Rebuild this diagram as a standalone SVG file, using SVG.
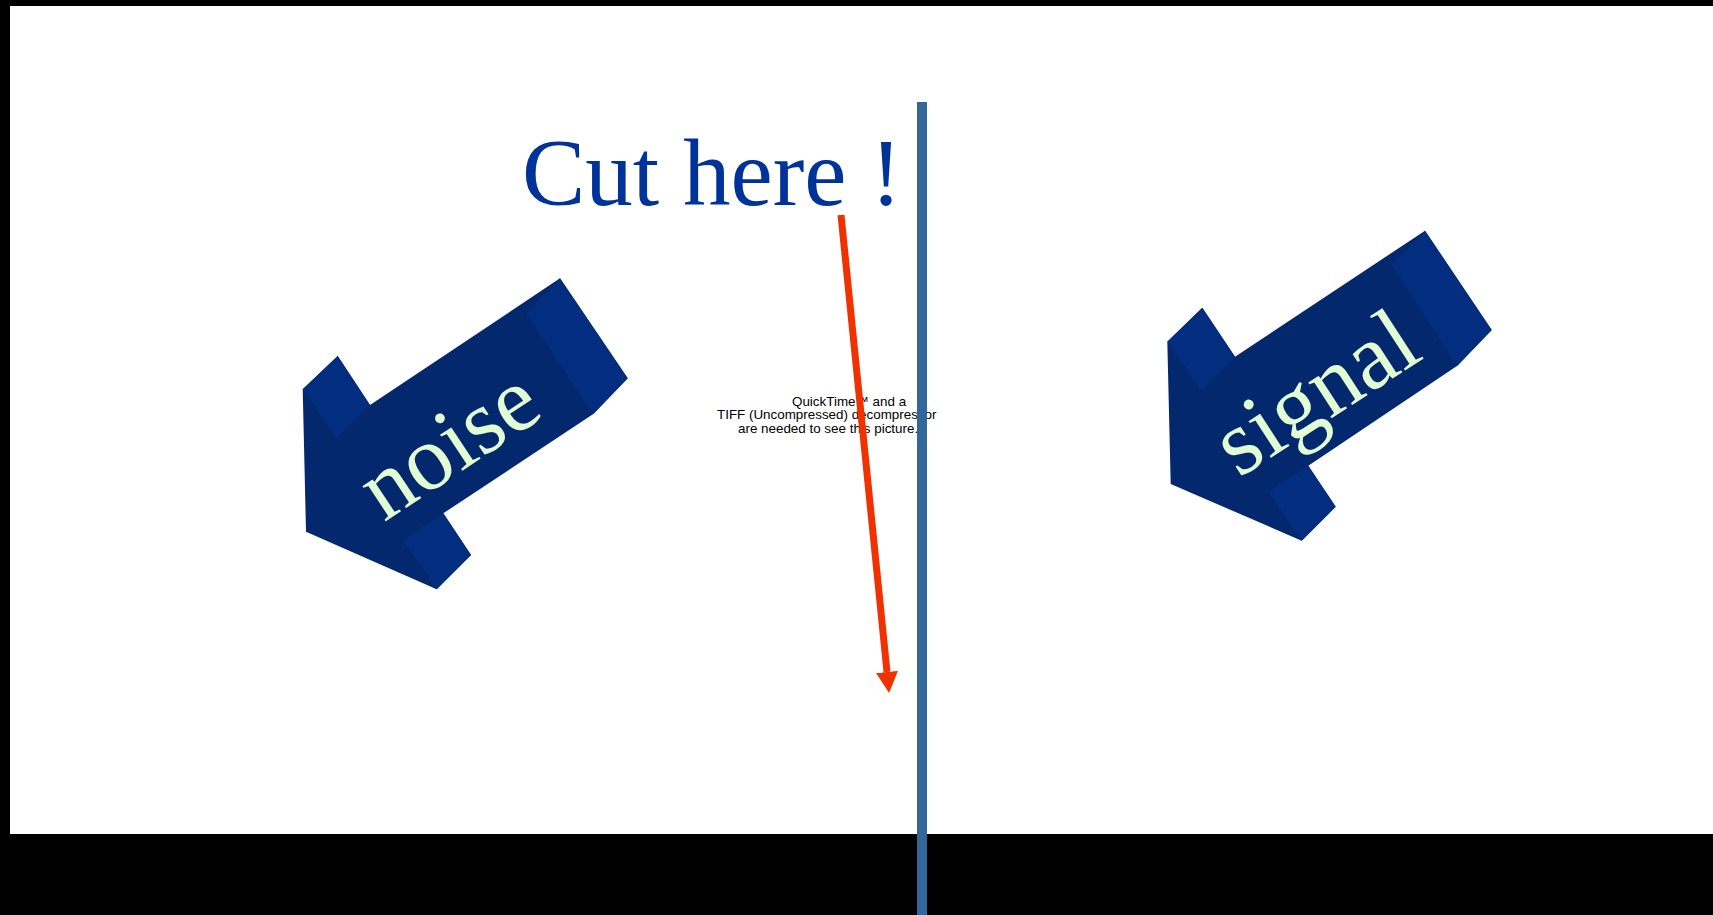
<svg xmlns="http://www.w3.org/2000/svg" width="1713" height="915" viewBox="0 0 1713 915">
<style>
.front{fill:#03286e}
.side{fill:#032e80}
.lbl{font-family:"Liberation Serif","Times New Roman",serif;fill:#e2fdd4}
.qt{font-family:"Liberation Sans",Arial,sans-serif;font-size:13.4px;fill:#000}
</style>
<defs>
<marker id="ah" markerUnits="userSpaceOnUse" markerWidth="24" markerHeight="24" refX="0" refY="11" orient="auto">
<polygon points="0,0 21,11 0,22" fill="#f03200"/>
</marker>
</defs>
<rect x="0" y="0" width="1713" height="915" fill="#000"/>
<rect x="10" y="6" width="1703" height="828" fill="#fff"/>
<g id="title">
<text x="522" y="205" font-family="'Liberation Serif','Times New Roman',serif" font-size="95" fill="#003399">Cut here !</text>
</g>
<g id="placeholder">
<text class="qt" x="792" y="406">QuickTime™ and a</text>
<text class="qt" x="717" y="419">TIFF (Uncompressed) decompressor</text>
<text class="qt" x="738" y="433">are needed to see this picture.</text>
</g>
<g id="noise">
<polygon class="front" points="302.7,389.3 337.7,356 370,405 560,278.3 627.7,378.3 593.3,414 443.3,513.3 471,555 436.7,589.3 306,531.7"/>
<polygon class="side" points="302.7,389.3 337.7,356 370,405 336.7,438.3"/>
<polygon class="side" points="526.7,313.3 560,278.3 627.7,378.3 593.3,414"/>
<polygon class="side" points="403.3,540 443.3,513.3 471,555 436.7,589.3"/>
<text class="lbl" x="465" y="469" font-size="92" text-anchor="middle" transform="rotate(-33.5 465 469)">noise</text>
</g>
<g id="signal">
<polygon class="front" points="1167.3,341.7 1202.3,307.7 1235,356.7 1425,230.7 1491.7,330 1457.3,365.7 1308.3,465.7 1335.7,506.7 1301.7,540.7 1170.7,484"/>
<polygon class="side" points="1167.3,341.7 1202.3,307.7 1235,356.7 1201.7,390.7"/>
<polygon class="side" points="1391.7,265 1425,230.7 1491.7,330 1457.3,365.7"/>
<polygon class="side" points="1268.3,491.7 1308.3,465.7 1335.7,506.7 1301.7,540.7"/>
<text class="lbl" x="1332" y="418" font-size="93" text-anchor="middle" transform="rotate(-33 1332 418)">signal</text>
</g>
<g id="cutline">
<rect x="917" y="102" width="10" height="813" fill="#336699"/>
</g>
<g id="connectors">
<line x1="841" y1="215" x2="887" y2="672" stroke="#f03200" stroke-width="7" marker-end="url(#ah)"/>
</g>
</svg>
